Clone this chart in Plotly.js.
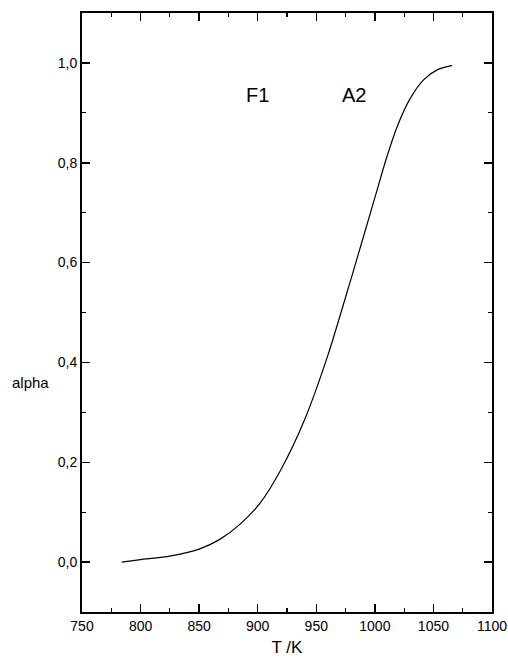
<!DOCTYPE html>
<html>
<head>
<meta charset="utf-8">
<script src="https://cdn.plot.ly/plotly-3.0.1.min.js"></script>
<style>html,body{margin:0;padding:0;background:#fff;}#plot{width:508px;height:667px;}</style>
</head>
<body>
<div id="plot"></div>
<script>
var temperatureK = [784, 800, 825, 850, 868, 885, 902, 920, 940, 960, 980, 1000, 1010, 1020, 1030, 1042, 1054, 1066];
var alphaValues  = [0.000, 0.005, 0.012, 0.026, 0.046, 0.076, 0.118, 0.186, 0.285, 0.415, 0.570, 0.730, 0.810, 0.878, 0.928, 0.967, 0.987, 0.995];
var curveLabels = ["F1", "A2"];
var curveLabelX = [900, 982];
var curveLabelY = [0.935, 0.935];

var font = "Liberation Sans, Arial, sans-serif";
var trace = {
  x: temperatureK, y: alphaValues, type: "scatter", mode: "lines",
  line: {color: "#000", width: 1.2, shape: "spline", smoothing: 0.7},
  hoverinfo: "skip"
};
var annotations = curveLabels.map(function(t, i){
  return {text: t, x: curveLabelX[i], y: curveLabelY[i], xref: "x", yref: "y",
    showarrow: false, font: {family: font, size: 20, color: "#000"}};
});
annotations.push({text: "alpha", xref: "paper", yref: "y", x: -0.125, y: 0.36,
  xanchor: "center", yanchor: "middle",
  showarrow: false, font: {family: font, size: 15, color: "#000"}});

var layout = {
  width: 508, height: 667,
  margin: {l: 82, r: 16, t: 13, b: 55},
  paper_bgcolor: "#fff", plot_bgcolor: "#fff",
  showlegend: false,
  separators: ",.",
  font: {family: font, color: "#000", size: 14},
  xaxis: {
    range: [750, 1100], tickmode: "linear", tick0: 750, dtick: 50,
    ticks: "inside", ticklen: 8, tickwidth: 1.5, tickcolor: "#000",
    minor: {ticks: "inside", dtick: 25, ticklen: 4, tickwidth: 1.2, tickcolor: "#000"},
    showline: true, linecolor: "#000", linewidth: 2, mirror: "ticks",
    showgrid: false, zeroline: false,
    tickfont: {family: font, size: 14, color: "#000"},
    title: {text: "T /K", font: {family: font, size: 17, color: "#000"}, standoff: 8}
  },
  yaxis: {
    range: [-0.1, 1.1], tickmode: "linear", tick0: 0, dtick: 0.2, tickformat: ".1f",
    ticks: "inside", ticklen: 8, tickwidth: 1.5, tickcolor: "#000",
    minor: {ticks: "inside", dtick: 0.1, ticklen: 4, tickwidth: 1.2, tickcolor: "#000"},
    showline: true, linecolor: "#000", linewidth: 2, mirror: "ticks",
    showgrid: false, zeroline: false,
    tickfont: {family: font, size: 14, color: "#000"}
  },
  annotations: annotations
};
Plotly.newPlot("plot", [trace], layout, {displayModeBar: false, staticPlot: true});
</script>
</body>
</html>
